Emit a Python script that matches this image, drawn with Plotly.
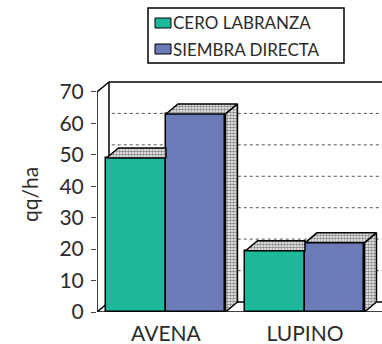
import plotly.graph_objects as go

# Yield data (qq/ha) per crop and tillage system
categories = ["AVENA", "LUPINO"]
cero_labranza = [49, 19.5]
siembra_directa = [63, 22]
series_names = ["CERO LABRANZA", "SIEMBRA DIRECTA"]
y_ticks = [0, 10, 20, 30, 40, 50, 60, 70]

GREEN = "#1db79b"
BLUE = "#6b7bb8"
TEXT = "#2b2b2b"
FONT = "Lato"

W, H = 382, 344
M_L, M_R, M_T, M_B = 97, 0, 78, 32
PW, PH = W - M_L - M_R, H - M_T - M_B

# axis ranges and pseudo-3D depth (in data units)
X_MIN, X_MAX = -0.496, 1.554
Y_MAX_WALL = 70
Y_TOP = 74.45
BAR_W = 0.428
DX = 12 / PW * (X_MAX - X_MIN)
DY = 10 / PH * Y_TOP

fig = go.Figure()

# front faces
for vals, name, color, side in [(cero_labranza, series_names[0], GREEN, -1),
                                (siembra_directa, series_names[1], BLUE, 1)]:
    xs = [i + side * BAR_W / 2 for i in range(len(categories))]
    fig.add_trace(go.Bar(x=xs, y=vals, width=BAR_W, name=name,
                         marker=dict(color=color, line=dict(color="black", width=1.5)),
                         showlegend=False))

pattern = dict(shape=".", fgcolor="#111111", bgcolor="white", size=3, solidity=0.6)


def poly(px, py):
    fig.add_trace(go.Scatter(x=px + [px[0]], y=py + [py[0]], mode="lines", fill="toself",
                             fillcolor="white", fillpattern=pattern,
                             line=dict(color="black", width=1.5),
                             hoverinfo="skip", showlegend=False))


for i in range(len(categories)):
    # left bar: top face clipped at the neighbouring bar
    v = cero_labranza[i]
    x0, x1 = i - BAR_W, i
    poly([x0, x1, x1, x0 + DX], [v, v, v + DY, v + DY])
    # right bar: top and side faces
    v = siembra_directa[i]
    x0, x1 = i, i + BAR_W
    poly([x0, x1, x1 + DX, x0 + DX], [v, v, v + DY, v + DY])
    poly([x1, x1 + DX, x1 + DX, x1], [0, DY, v + DY, v])

# frame: back wall, floor and dotted grid
shapes = []
blk = dict(color="black", width=1.5)
wall_x = X_MIN + DX
shapes.append(dict(type="line", xref="x", yref="y", x0=wall_x, y0=DY, x1=wall_x,
                   y1=Y_MAX_WALL + DY, line=blk, layer="below"))
shapes.append(dict(type="line", xref="x", yref="y", x0=wall_x, y0=Y_MAX_WALL + DY, x1=X_MAX,
                   y1=Y_MAX_WALL + DY, line=blk, layer="below"))
shapes.append(dict(type="line", xref="x", yref="y", x0=X_MIN, y0=Y_MAX_WALL, x1=wall_x,
                   y1=Y_MAX_WALL + DY, line=blk, layer="below"))
shapes.append(dict(type="line", xref="x", yref="y", x0=X_MIN, y0=0, x1=wall_x,
                   y1=DY, line=blk, layer="below"))
shapes.append(dict(type="line", xref="x", yref="y", x0=wall_x, y0=DY, x1=X_MAX,
                   y1=DY, line=blk, layer="below"))
for t in y_ticks[1:-1]:
    shapes.append(dict(type="line", xref="x", yref="y", x0=wall_x + 0.02, y0=t + DY, x1=X_MAX,
                       y1=t + DY, line=dict(color="#555555", width=1, dash="dot"), layer="below"))
shapes.append(dict(type="line", xref="x", yref="y", x0=X_MIN, y0=0, x1=X_MIN,
                   y1=Y_MAX_WALL, line=blk, layer="above"))
shapes.append(dict(type="line", xref="x", yref="y", x0=X_MIN, y0=0, x1=X_MAX,
                   y1=0, line=blk, layer="above"))


def px_x(p):
    return (p - M_L) / PW


def px_y(p):
    return (H - M_B - p) / PH


# legend box
shapes.append(dict(type="rect", xref="paper", yref="paper", x0=px_x(148), x1=px_x(344),
                   y0=px_y(63), y1=px_y(8), line=dict(color="black", width=1.5),
                   fillcolor="white"))
annotations = []
for k, (name, color) in enumerate(zip(series_names, [GREEN, BLUE])):
    cy = 23 + 26 * k
    shapes.append(dict(type="rect", xref="paper", yref="paper", x0=px_x(155), x1=px_x(171),
                       y0=px_y(cy + 5), y1=px_y(cy - 5), line=dict(color="black", width=1),
                       fillcolor=color))
    annotations.append(dict(xref="paper", yref="paper", x=px_x(171), y=px_y(cy),
                            xanchor="left", yanchor="middle", text=name, showarrow=False,
                            font=dict(family=FONT, size=17, color=TEXT)))

annotations.append(dict(xref="paper", yref="paper", x=0, y=px_y(195), xshift=-68,
                        xanchor="center", yanchor="middle", text="qq/ha", textangle=-90,
                        showarrow=False, font=dict(family=FONT, size=21, color=TEXT)))

fig.update_layout(
    width=W, height=H, margin=dict(l=M_L, r=M_R, t=M_T, b=M_B, pad=0),
    paper_bgcolor="white", plot_bgcolor="white",
    barmode="overlay", bargap=0,
    shapes=shapes, annotations=annotations,
    xaxis=dict(range=[X_MIN, X_MAX], tickvals=list(range(len(categories))), ticktext=categories,
               showgrid=False, zeroline=False, showline=False, ticks="",
               ticklabelstandoff=7, tickfont=dict(family=FONT, size=21, color=TEXT)),
    yaxis=dict(range=[0, Y_TOP], tickvals=y_ticks, showgrid=False, zeroline=False,
               showline=False, ticks="outside", ticklen=5, tickcolor="#444", tickwidth=1,
               ticklabelstandoff=3, tickfont=dict(family=FONT, size=21, color=TEXT)),
    showlegend=False,
)

fig.write_html("out.html")
